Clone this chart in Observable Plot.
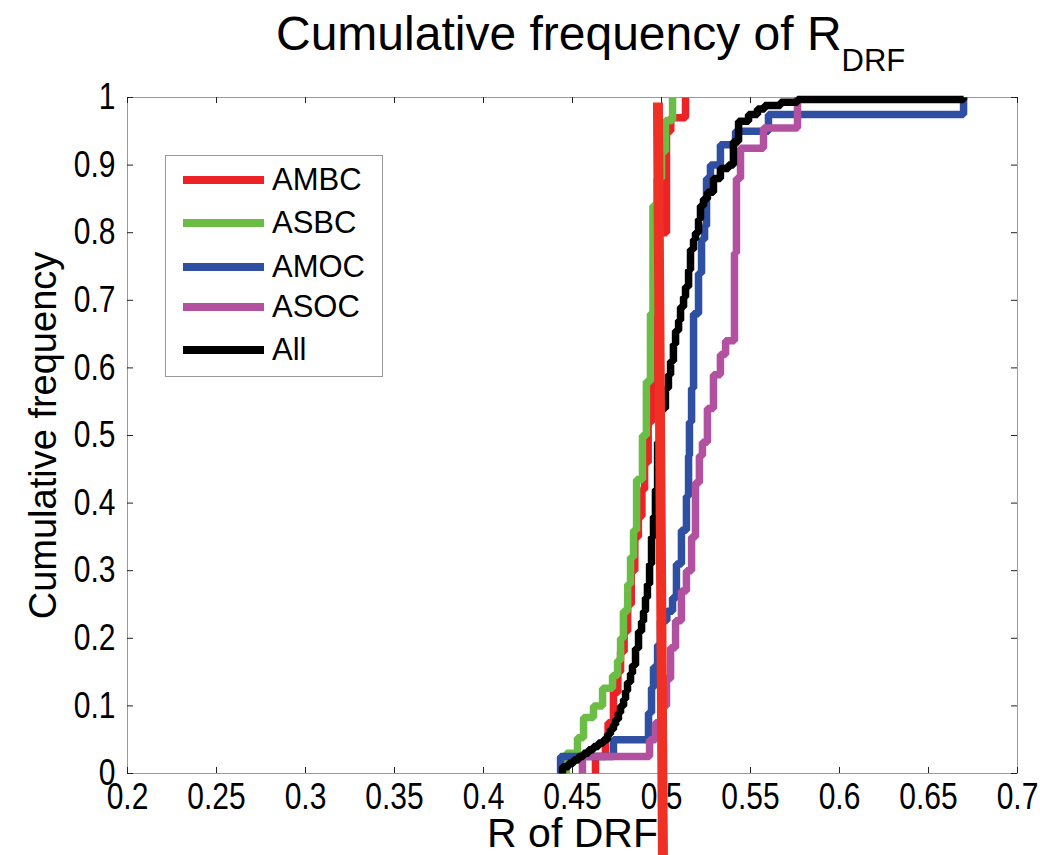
<!DOCTYPE html>
<html><head><meta charset="utf-8">
<script src="https://cdn.jsdelivr.net/npm/d3@7"></script>
<script src="https://cdn.jsdelivr.net/npm/@observablehq/plot@0.6"></script>
<style>
body{margin:0;background:#fff;overflow:hidden}
#wrap{position:relative;width:1040px;height:855px;font-family:"Liberation Sans",Arial,Helvetica,sans-serif;color:#000}
#title{position:absolute;left:276px;top:10px;font-size:48px;line-height:48px;white-space:nowrap}
#title span{font-size:31px;position:relative;top:21px}
#chart{position:absolute;left:0;top:0}
#legend{position:absolute;left:165px;top:155px;width:216px;height:220px;border:1px solid #999;background:#fff}
.row{position:absolute;left:0;height:40px;width:216px}
.row i{position:absolute;left:17px;width:81px;height:8px;top:16px}
.row b{position:absolute;left:106px;top:2px;font-weight:normal;font-size:31px;line-height:36px}
</style></head><body>
<div id="wrap">
<div id="title">Cumulative frequency of R<span>DRF</span></div>
<div id="chart"></div>
<div id="legend"></div>
</div>
<script>
const seriesNames = ["AMBC", "ASBC", "AMOC", "ASOC", "All"];
const seriesColors = ["#ec2227", "#6cbd45", "#2f4fa2", "#b2519f", "#000000"];

const ambcX = [0.4629, 0.4685, 0.4700, 0.4730, 0.4755, 0.4770, 0.4790, 0.4810, 0.4830, 0.4850, 0.4870, 0.4890, 0.4905, 0.4925, 0.4945, 0.4965, 0.4985, 0.5028, 0.5052, 0.5135];
const ambcF = [0.025, 0.05, 0.075, 0.12, 0.15, 0.18, 0.21, 0.25, 0.30, 0.35, 0.38, 0.42, 0.46, 0.52, 0.60, 0.70, 0.80, 0.95, 0.97, 1.0];

const asbcX = [0.4466, 0.4528, 0.4562, 0.4618, 0.4669, 0.4725, 0.4753, 0.4770, 0.4786, 0.4810, 0.4826, 0.4843, 0.4860, 0.4893, 0.4915, 0.4938, 0.4952, 0.4975, 0.5000, 0.5022, 0.5062];
const asbcF = [0.03, 0.053, 0.083, 0.10, 0.126, 0.145, 0.167, 0.20, 0.24, 0.28, 0.32, 0.36, 0.435, 0.50, 0.58, 0.68, 0.84, 0.88, 0.92, 0.966, 1.0];

const amocX = [0.4433, 0.4730, 0.4927, 0.4944, 0.4955, 0.4978, 0.4994, 0.5030, 0.5062, 0.5084, 0.5112, 0.5140, 0.5152, 0.5157, 0.5169, 0.5180, 0.5208, 0.5225, 0.5242, 0.5253, 0.5275, 0.5331, 0.5416, 0.5601, 0.6697];
const amocF = [0.025, 0.05, 0.09, 0.127, 0.157, 0.19, 0.226, 0.24, 0.26, 0.31, 0.36, 0.41, 0.47, 0.52, 0.57, 0.68, 0.74, 0.79, 0.81, 0.88, 0.90, 0.93, 0.95, 0.975, 1.0];

const asocX = [0.4556, 0.4933, 0.4966, 0.5000, 0.5028, 0.5051, 0.5079, 0.5112, 0.5140, 0.5169, 0.5191, 0.5213, 0.5230, 0.5258, 0.5292, 0.5331, 0.5360, 0.5410, 0.5421, 0.5444, 0.5573, 0.5764];
const asocF = [0.025, 0.05, 0.075, 0.10, 0.14, 0.186, 0.226, 0.27, 0.30, 0.35, 0.43, 0.47, 0.49, 0.54, 0.59, 0.62, 0.64, 0.77, 0.88, 0.925, 0.955, 1.0];

const allX = [0.4444, 0.4478, 0.4506, 0.4534, 0.4562, 0.4590, 0.4618, 0.4646, 0.4674, 0.4697, 0.4713, 0.4730, 0.4742, 0.4758, 0.4770, 0.4787, 0.4798, 0.4809, 0.4826, 0.4837, 0.4854, 0.4871, 0.4888, 0.4899, 0.4910, 0.4921, 0.4933, 0.4944, 0.4955, 0.4966, 0.4978, 0.4994, 0.5022, 0.5039, 0.5051, 0.5067, 0.5079, 0.5096, 0.5107, 0.5124, 0.5135, 0.5152, 0.5163, 0.5180, 0.5191, 0.5208, 0.5219, 0.5236, 0.5258, 0.5292, 0.5331, 0.5376, 0.5404, 0.5433, 0.5489, 0.5539, 0.5579, 0.5669, 0.5764, 0.6697];
const allF = [0.01, 0.015, 0.02, 0.025, 0.03, 0.035, 0.04, 0.045, 0.05, 0.058, 0.065, 0.072, 0.08, 0.09, 0.10, 0.11, 0.122, 0.135, 0.148, 0.16, 0.185, 0.21, 0.225, 0.24, 0.26, 0.28, 0.31, 0.35, 0.38, 0.42, 0.49, 0.54, 0.57, 0.59, 0.61, 0.635, 0.655, 0.67, 0.69, 0.705, 0.72, 0.745, 0.775, 0.79, 0.80, 0.82, 0.84, 0.85, 0.86, 0.88, 0.895, 0.90, 0.935, 0.965, 0.975, 0.983, 0.988, 0.993, 0.997, 1.0];

// thick red marker line drawn across the figure (x value, cumulative frequency)
const markerX = [0.4980, 0.5008];
const markerF = [0.9926, -0.1213];

const xTicks = [0.2, 0.25, 0.3, 0.35, 0.4, 0.45, 0.5, 0.55, 0.6, 0.65, 0.7];
const xTickLabels = ["0.2", "0.25", "0.3", "0.35", "0.4", "0.45", "0.5", "0.55", "0.6", "0.65", "0.7"];
const yTicks = [0, 0.1, 0.2, 0.3, 0.4, 0.5, 0.6, 0.7, 0.8, 0.9, 1];
const yTickLabels = ["0", "0.1", "0.2", "0.3", "0.4", "0.5", "0.6", "0.7", "0.8", "0.9", "1"];

const seriesX = [ambcX, asbcX, amocX, asocX, allX];
const seriesF = [ambcF, asbcF, amocF, asocF, allF];

function ecdfRows(xs, fs) {
  return [{x: xs[0], y: 0}].concat(xs.map((x, i) => ({x, y: fs[i]})));
}

const W = 1040, H = 855;
const mL = 127, mR = 23, mT = 97, mB = 82;
const frameW = W - mL - mR, frameH = H - mT - mB;
const tick = 6;
const font = '"Liberation Sans", Arial, Helvetica, sans-serif';

const curveMarks = seriesNames.map((name, i) =>
  Plot.line(ecdfRows(seriesX[i], seriesF[i]), {
    x: "x", y: "y", curve: "step-after",
    stroke: seriesColors[i], strokeWidth: 7.5,
    strokeLinejoin: "miter", strokeLinecap: "butt"
  })
);

const markerRows = markerX.map((x, i) => ({x, y: markerF[i]}));

const chart = Plot.plot({
  width: W, height: H,
  marginLeft: mL, marginRight: mR, marginTop: mT, marginBottom: mB,
  style: {fontFamily: font, background: "transparent", overflow: "visible"},
  x: {domain: [0.2, 0.7]},
  y: {domain: [0, 1]},
  marks: [
    Plot.frame({stroke: "#9a9a9a", strokeWidth: 1}),
    Plot.ruleX(xTicks, {x: d => d, insetTop: frameH - tick, stroke: "#222"}),
    Plot.ruleX(xTicks, {x: d => d, insetBottom: frameH - tick, stroke: "#222"}),
    Plot.ruleY(yTicks, {y: d => d, insetRight: frameW - tick, stroke: "#222"}),
    Plot.ruleY(yTicks, {y: d => d, insetLeft: frameW - tick, stroke: "#222"}),
    Plot.axisX({ticks: xTicks, tickSize: 0, tickPadding: 10, tickFormat: (d, i) => xTickLabels[i], fontSize: 30, label: null}),
    Plot.axisY({ticks: yTicks, tickSize: 0, tickPadding: 12, tickFormat: (d, i) => yTickLabels[i], fontSize: 30, label: null}),
    ...curveMarks,
    Plot.text(["Cumulative frequency"], {text: d => d, frameAnchor: "left", textAnchor: "middle", lineAnchor: "middle", rotate: -90, dx: -84, fontSize: 38}),
    Plot.text(["R of DRF"], {text: d => d, frameAnchor: "bottom", textAnchor: "middle", lineAnchor: "middle", dy: 60, fontSize: 41}),
    Plot.line(markerRows, {x: "x", y: "y", stroke: "#ee3124", strokeWidth: 10, strokeLinecap: "butt"})
  ]
});

// the reference's tick labels are drawn vertically stretched; reproduce that
chart.querySelectorAll('g[aria-label="x-axis tick label"] text, g[aria-label="y-axis tick label"] text').forEach(el => {
  let t = el.getAttribute("transform");
  if (!t) {
    const x = +(el.getAttribute("x") || 0), y = +(el.getAttribute("y") || 0);
    el.removeAttribute("x"); el.removeAttribute("y");
    t = `translate(${x},${y})`;
  }
  el.setAttribute("transform", t + " scale(1,1.22)");
});

document.getElementById("chart").appendChild(chart);

const legend = document.getElementById("legend");
const rowTops = [4, 47, 91, 131, 174];
seriesNames.forEach((name, i) => {
  const r = document.createElement("div");
  r.className = "row";
  r.style.top = rowTops[i] + "px";
  const line = document.createElement("i");
  line.style.background = seriesColors[i];
  const t = document.createElement("b");
  t.textContent = name;
  r.appendChild(line); r.appendChild(t);
  legend.appendChild(r);
});
</script>
</body></html>
